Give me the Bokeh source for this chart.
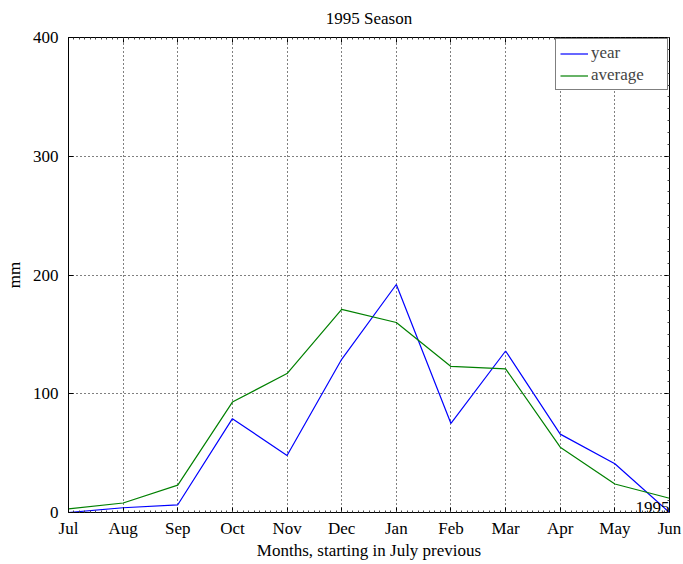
from bokeh.plotting import figure
from bokeh.models import Range1d, FixedTicker, LinearAxis, Legend, LegendItem, ColumnDataSource
from bokeh.core.properties import value
from bokeh.embed import file_html
from bokeh.resources import INLINE

months = ["Jul", "Aug", "Sep", "Oct", "Nov", "Dec", "Jan", "Feb", "Mar", "Apr", "May", "Jun"]
year_vals = [0, 4, 6.5, 79, 48, 129, 192, 75, 136, 66, 41, 0]
avg_vals = [3, 8, 23, 93, 117, 171, 160, 123, 121, 55, 24, 12]
y_ticks = [0, 100, 200, 300, 400]
title_text = "1995 Season"
x_label = "Months, starting in July previous"
y_label = "mm"
corner_text = "1995"

FONT = "Liberation Serif"
FS = "17px"
xs = list(range(len(months)))

p = figure(width=683, height=564, output_backend="svg", toolbar_location=None,
           x_range=Range1d(0, len(months) - 1), y_range=Range1d(0, 400),
           min_border_left=68, min_border_right=14, min_border_top=37, min_border_bottom=52,
           x_axis_location=None, y_axis_location=None)
p.title = None

x_minor = [i / 10 for i in range(0, 111)]
y_minor = list(range(0, 401, 10))
xt = FixedTicker(ticks=xs, minor_ticks=x_minor)
yt = FixedTicker(ticks=y_ticks, minor_ticks=y_minor)

def style(ax, labels=True, minor=True):
    ax.axis_line_color = "black"
    ax.major_tick_in = 5
    ax.major_tick_out = 0
    ax.major_tick_line_color = "black"
    if minor:
        ax.minor_tick_in = 2
        ax.minor_tick_out = 0
        ax.minor_tick_line_color = "#444444"
    else:
        ax.minor_tick_line_color = None
    ax.major_label_text_font = FONT
    ax.major_label_text_font_size = FS
    ax.major_label_text_color = "black"
    ax.axis_label_text_font = FONT
    ax.axis_label_text_font_size = FS
    ax.axis_label_text_font_style = "normal"
    ax.axis_label_text_color = "black"
    if not labels:
        ax.major_label_text_alpha = 0
        ax.major_label_text_font_size = "0px"

xb = LinearAxis(ticker=xt, major_label_overrides={i: m for i, m in enumerate(months)},
                axis_label=x_label)
style(xb)
xb.major_label_standoff = 6
xb.axis_label_standoff = 0
p.add_layout(xb, "below")

xa = LinearAxis(ticker=xt, axis_label=title_text)
style(xa, labels=False)
xa.axis_label_standoff = 10
p.add_layout(xa, "above")

yl = LinearAxis(ticker=yt, axis_label=y_label)
style(yl, minor=False)
yl.major_label_standoff = 6
yl.axis_label_standoff = 6
p.add_layout(yl, "left")

yr = LinearAxis(ticker=yt)
style(yr, labels=False)
p.add_layout(yr, "right")

p.xgrid.ticker = FixedTicker(ticks=xs)
p.ygrid.ticker = FixedTicker(ticks=y_ticks)
for g in (p.xgrid, p.ygrid):
    g.grid_line_color = "black"
    g.grid_line_dash = "1 3"
    g.grid_line_width = 1

p.outline_line_color = "black"
p.background_fill_color = "white"
p.border_fill_color = "white"

src = ColumnDataSource(dict(x=xs, year=year_vals, avg=avg_vals))
r1 = p.line("x", "year", source=src, line_color="#0000ff", line_width=1.2)
r2 = p.line("x", "avg", source=src, line_color="#008000", line_width=1.2)

p.text(x=[len(months) - 1], y=[0], text=[corner_text], text_align="right", text_baseline="bottom",
       text_font=value(FONT), text_font_size=FS, text_color="black")

legend = Legend(items=[LegendItem(label="year", renderers=[r1]),
                       LegendItem(label="average", renderers=[r2])],
                location="top_right")
legend.label_text_font = FONT
legend.label_text_font_size = FS
legend.glyph_width = 28
legend.glyph_height = 19
legend.label_height = 19
legend.label_width = 72
legend.spacing = 2
legend.padding = 4
legend.margin = 1
legend.label_standoff = 3
legend.border_line_color = "black"
legend.border_line_width = 1
legend.background_fill_alpha = 1
p.add_layout(legend, "center")

open("out.html", "w").write(file_html(p, INLINE))
